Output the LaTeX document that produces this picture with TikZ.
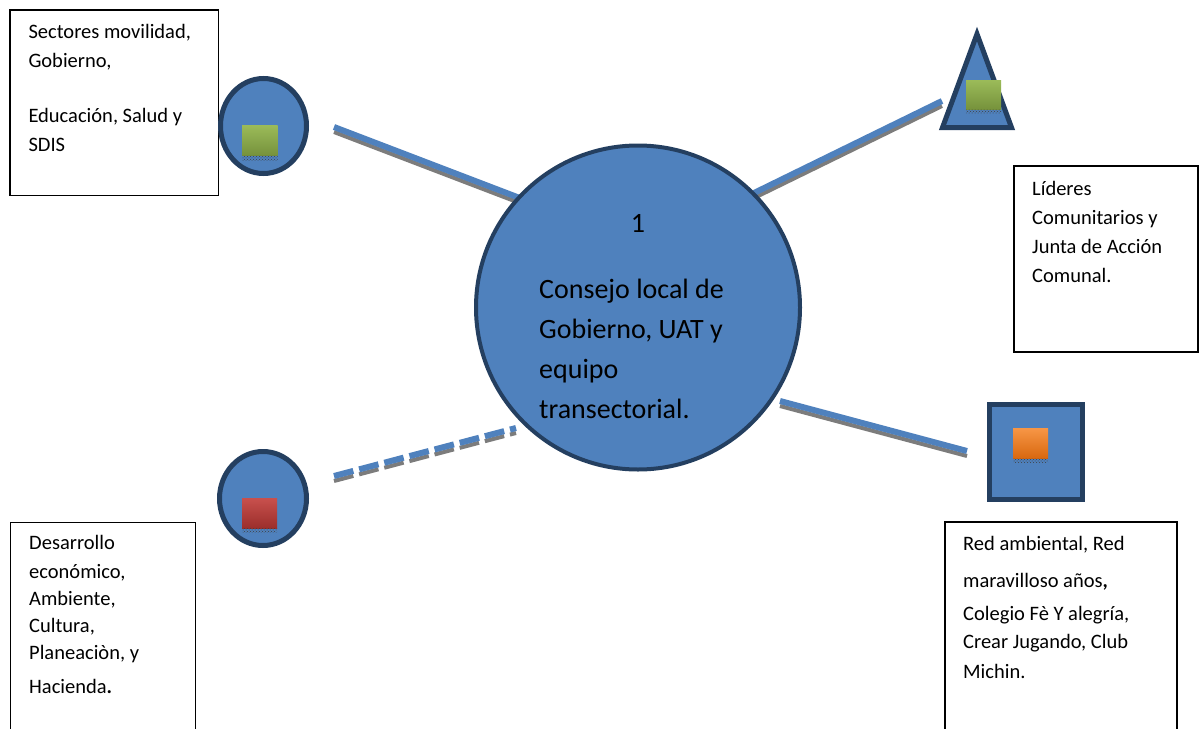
\documentclass[tikz,border=0pt]{standalone}
\usepackage{fontspec}
\setmainfont{Carlito}
\usetikzlibrary{shapes.geometric,patterns,calc}
\definecolor{shapeblue}{HTML}{4F81BD}
\definecolor{darkrim}{HTML}{243F60}
\definecolor{linegray}{HTML}{7C7C7C}
\definecolor{greentop}{HTML}{9BBB59}
\definecolor{greenbot}{HTML}{76923C}
\definecolor{redtop}{HTML}{C8504D}
\definecolor{redbot}{HTML}{9B2E2B}
\definecolor{orangetop}{HTML}{F79646}
\definecolor{orangebot}{HTML}{D9680F}
\begin{document}
\begin{tikzpicture}[x=1pt,y=-1pt,
  smalltext/.style={font=\fontsize{20.5}{29}\selectfont, align=left, anchor=base west, inner sep=0pt},
  bigtext/.style={font=\fontsize{28}{40}\selectfont, align=left, inner sep=0pt},
  textbox/.style={draw=black, line width=1.5pt, anchor=north west, inner sep=0pt},
  blueshape/.style={draw=darkrim, fill=shapeblue, inner sep=0pt},
  minisq/.style={anchor=north west, inner sep=0pt, draw=none},
  dotstrip/.style={pattern=crosshatch dots, pattern color=black!75},
  shadowline/.style={draw=linegray, line width=4pt},
  blueline/.style={draw=shapeblue, line width=6pt},
  dashpat/.style={dash pattern=on 20pt off 6pt}]
\useasboundingbox[fill=white] (0,0) rectangle (1199,728);

% ---- text boxes (text anchored at the baseline of its last line) ----
\node[textbox, minimum width=208.5, minimum height=185.5] (boxTL) at (9,9) {};
\node[smalltext] (txtTL) at (28.3,151.7) {Sectores movilidad,\\ Gobierno,\\[26pt] Educación, Salud y\\ SDIS};

\node[textbox, minimum width=184, minimum height=186] (boxTR) at (1013,165) {};
\node[smalltext] (txtTR) at (1032,282) {Líderes\\ Comunitarios y\\ Junta de Acción\\ Comunal.};

\node[textbox, minimum width=185, minimum height=300] (boxBL) at (9.5,521.5) {};
\node[smalltext, font=\fontsize{20.5}{27}\selectfont] (txtBL) at (29,693) {Desarrollo\\[2pt] económico,\\ Ambiente,\\ Cultura,\\ Planeaciòn, y\\[7pt] Hacienda{\bfseries .}};

\node[textbox, minimum width=232, minimum height=300] (boxBR) at (944,521) {};
\node[smalltext, font=\fontsize{20.5}{30}\selectfont] (txtBR) at (963,678) {Red ambiental, Red\\[7pt] maravilloso años{\bfseries ,}\\[3pt] Colegio Fè Y alegría,\\[-2pt] Crear Jugando, Club\\ Michin.};

% ---- connectors (drawn under the shapes) ----
\coordinate (l1a) at (334,127);  \coordinate (l1b) at (521,198.5);
\coordinate (l2a) at (754,193);  \coordinate (l2b) at (942,101);
\coordinate (l3a) at (334,476);  \coordinate (l3b) at (516,428);
\coordinate (l4a) at (780,401);  \coordinate (l4b) at (967,451);

\draw[shadowline] ($(l1a)+(0,5)$) -- ($(l1b)+(0,5)$);
\draw[blueline] (l1a) -- (l1b);
\draw[shadowline] ($(l2a)+(0,5)$) -- ($(l2b)+(0,5)$);
\draw[blueline] (l2a) -- (l2b);
\draw[shadowline, dashpat] ($(l3a)+(0,5)$) -- ($(l3b)+(0,5)$);
\draw[blueline, dashpat] (l3a) -- (l3b);
\draw[shadowline] ($(l4a)+(0,5)$) -- ($(l4b)+(0,5)$);
\draw[blueline] (l4a) -- (l4b);

% ---- central circle ----
\node[blueshape, circle, line width=4pt, minimum size=324] (big) at (638,307.5) {};
\node[bigtext, anchor=base] (num) at (638,232) {1};
\node[bigtext, anchor=base west] (ctext) at (539,418) {Consejo local de\\ Gobierno, UAT y\\ equipo\\ transectorial.};

% ---- top-left circle ----
\node[blueshape, ellipse, line width=5pt, minimum width=86, minimum height=95] (c1) at (263.5,126) {};
\node[minisq, minimum width=35.5, minimum height=30, top color=greentop, bottom color=greenbot] (sq1) at (242,125) {};
\fill[dotstrip] (242,155) rectangle (277.5,160);

% ---- bottom-left circle ----
\node[blueshape, ellipse, line width=5pt, minimum width=87, minimum height=94] (c2) at (263,498.5) {};
\node[minisq, minimum width=35, minimum height=30, top color=redtop, bottom color=redbot] (sq2) at (242,498) {};
\fill[dotstrip] (242,528) rectangle (277,532);

% ---- triangle ----
\coordinate (tri) at (977,95);
\draw[blueshape, line width=5pt, line join=miter] (977,34) -- (942.5,127.5) -- (1011.5,127.5) -- cycle;
\node[minisq, minimum width=35, minimum height=29, top color=greentop, bottom color=greenbot] (sq3) at (966,80) {};
\fill[dotstrip] (966,109) rectangle (1001,113);

% ---- square ----
\node[blueshape, rectangle, line width=5pt, minimum width=93, minimum height=95] (sqbig) at (1036,452) {};
\node[minisq, minimum width=35, minimum height=30, top color=orangetop, bottom color=orangebot] (sq4) at (1013,428) {};
\fill[dotstrip] (1013,458) rectangle (1048,462);
\end{tikzpicture}
\end{document}
